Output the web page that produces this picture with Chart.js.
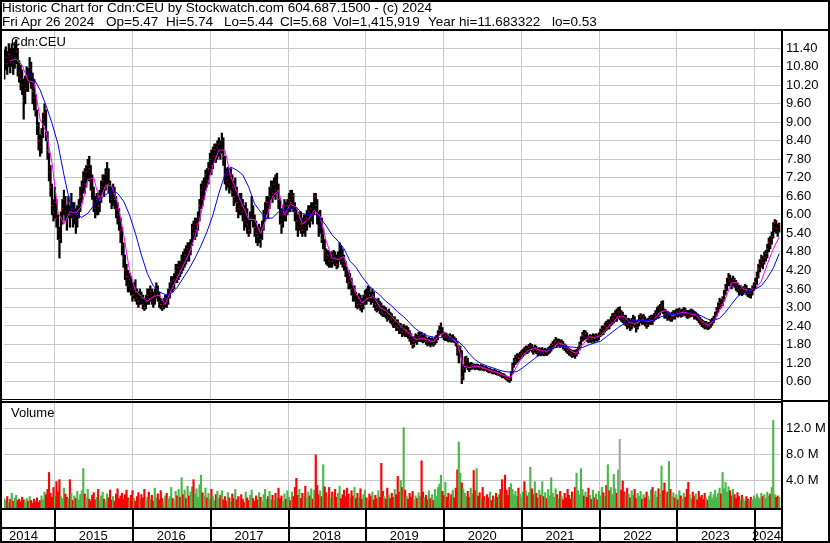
<!DOCTYPE html>
<html>
<head>
<meta charset="utf-8">
<title>Historic Chart for Cdn:CEU</title>
<script src="https://cdn.jsdelivr.net/npm/chart.js@4.4.1/dist/chart.umd.min.js"></script>
<style>
  html, body { margin:0; padding:0; background:#fff; }
  #wrap { position:relative; width:830px; height:543px; overflow:hidden; }
  #chart { position:absolute; left:0; top:0; }
  .hdr { position:absolute; font:13.5px "Liberation Sans", Arial, sans-serif; line-height:14px; color:#000; white-space:pre; }
</style>
</head>
<body>
<div id="wrap">
  <canvas id="chart" width="830" height="543"></canvas>
  <div id="hdr"></div>
</div>
<script>
// ---------------- data ----------------
const symbol = 'Cdn:CEU';
const headerTitle = 'Historic Chart for Cdn:CEU by Stockwatch.com 604.687.1500 - (c) 2024';
const headerStats = ['Fri Apr 26 2024', 'Op=5.47', 'Hi=5.74', 'Lo=5.44', 'Cl=5.68', 'Vol=1,415,919', 'Year hi=11.683322', 'lo=0.53'];
const firstWeekDate = '2014-05-09';           // one bar per week from this date
const yearLabels = ['2014','2015','2016','2017','2018','2019','2020','2021','2022','2023','2024'];
const priceTickLabels = ['0.60','1.20','1.80','2.40','3.00','3.60','4.20','4.80','5.40','6.00','6.60','7.20','7.80','8.40','9.00','9.60','10.20','10.80','11.40'];
const volumeTickLabels = ['4.0 M','8.0 M','12.0 M'];

const closes = [
10.90,11.10,10.90,11.20,10.95,11.15,10.90,11.10,11.30,10.85,
10.60,10.40,10.20,9.70,10.10,10.45,10.30,10.80,10.50,10.00,
9.80,9.40,8.90,8.40,8.20,8.60,9.10,9.30,8.70,8.10,
7.40,6.90,6.30,6.10,6.40,5.90,5.50,5.20,5.90,6.20,
6.50,6.10,5.80,6.40,6.00,6.20,5.90,6.10,5.80,6.00,
6.30,6.60,6.90,7.20,7.00,7.40,7.60,7.50,7.10,6.80,
6.40,6.20,6.50,6.30,6.60,6.90,7.10,6.90,7.30,7.40,
7.00,6.70,6.50,6.80,6.50,6.20,6.00,5.80,5.50,5.00,
4.60,4.20,4.00,3.70,3.90,3.60,3.40,3.60,3.50,3.30,
3.20,3.40,3.30,3.10,3.00,3.20,3.40,3.30,3.50,3.30,
3.20,3.40,3.60,3.40,3.20,3.10,3.00,3.10,3.30,3.20,
3.40,3.60,3.80,3.70,3.90,4.20,4.00,4.30,4.20,4.50,
4.40,4.70,4.60,4.90,4.80,5.00,5.60,5.40,5.50,5.70,
5.90,6.30,6.80,6.50,7.00,7.30,7.10,7.50,7.80,7.60,
7.90,8.10,7.90,8.20,8.30,8.00,8.40,7.90,7.30,7.10,
7.30,7.00,7.20,6.90,6.60,6.80,6.40,6.20,6.50,6.30,
6.10,5.80,6.10,5.70,5.50,5.90,6.20,5.90,5.60,5.40,
5.30,5.50,5.20,5.60,5.90,6.10,6.40,6.20,6.60,6.90,
6.70,7.00,6.80,7.10,6.50,6.00,5.70,6.00,6.30,6.10,
6.30,6.50,6.40,6.60,6.30,6.10,5.80,5.60,5.90,5.70,
5.50,5.80,5.60,5.90,6.10,5.90,6.20,6.00,6.60,6.30,
6.00,5.60,5.80,5.20,5.40,4.80,4.60,4.70,4.50,4.60,
4.50,4.70,4.60,4.40,4.60,4.90,4.70,4.50,4.40,4.20,
4.00,3.80,3.90,3.60,3.40,3.50,3.20,3.10,3.30,3.10,
3.00,3.20,3.40,3.30,3.50,3.40,3.30,3.40,3.20,3.10,
3.00,3.10,3.05,2.85,2.80,2.90,2.80,2.70,2.80,2.65,
2.60,2.50,2.55,2.40,2.35,2.30,2.35,2.20,2.30,2.20,
2.25,2.15,2.05,1.95,1.80,1.90,2.00,1.95,2.05,2.10,
1.98,1.95,2.00,1.90,1.85,1.95,1.88,1.92,1.85,1.95,
2.00,2.15,2.25,2.40,2.15,2.05,2.10,2.05,1.98,2.05,
1.95,2.00,1.92,1.85,1.55,1.60,1.70,0.75,1.00,1.20,
1.30,1.10,1.05,1.12,1.14,1.08,1.05,1.12,1.08,1.05,
1.08,1.02,1.00,1.04,0.98,0.95,0.97,0.92,0.90,0.93,
0.88,0.85,0.88,0.82,0.78,0.80,0.74,0.70,0.68,0.66,
0.85,1.10,1.25,1.30,1.40,1.35,1.45,1.50,1.55,1.50,
1.65,1.60,1.70,1.75,1.65,1.60,1.70,1.62,1.55,1.60,
1.55,1.60,1.52,1.58,1.55,1.62,1.68,1.75,1.80,1.85,
1.90,1.82,1.88,1.80,1.85,1.75,1.70,1.65,1.60,1.55,
1.50,1.45,1.55,1.48,1.55,1.65,1.80,1.95,2.10,2.05,
2.15,2.00,1.95,2.05,1.98,2.05,2.00,2.08,2.02,2.10,
2.20,2.30,2.25,2.40,2.35,2.50,2.45,2.55,2.65,2.72,
2.75,2.70,2.85,2.85,2.75,2.62,2.55,2.60,2.45,2.50,
2.40,2.55,2.60,2.45,2.35,2.50,2.60,2.70,2.55,2.65,
2.55,2.45,2.55,2.60,2.68,2.58,2.70,2.75,2.85,2.80,
2.95,3.05,2.90,2.75,2.80,2.70,2.75,2.65,2.72,2.80,
2.75,2.85,2.80,2.88,2.78,2.85,2.90,2.82,2.75,2.70,
2.78,2.85,2.80,2.72,2.78,2.68,2.60,2.55,2.50,2.45,
2.40,2.45,2.38,2.42,2.50,2.55,2.62,2.75,2.90,3.05,
3.15,3.10,3.25,3.40,3.60,3.80,3.95,3.85,3.75,3.90,
3.80,3.70,3.65,3.55,3.60,3.50,3.58,3.65,3.55,3.45,
3.50,3.45,3.62,3.70,3.80,4.00,4.25,4.40,4.55,4.45,
4.60,4.75,4.90,5.10,5.05,5.30,5.60,5.75,5.55,5.45,5.68];

const highs = [
11.35,11.45,11.30,11.55,11.40,11.55,11.40,11.60,11.68,11.40,
11.00,10.85,10.70,10.40,10.50,10.80,10.75,11.10,10.95,10.60,
10.40,9.90,9.40,9.00,8.60,8.80,9.30,9.60,9.40,8.70,
8.00,7.60,7.00,6.50,6.90,6.50,6.00,5.60,6.10,6.50,
6.80,6.60,6.30,6.60,6.30,6.70,6.40,6.40,6.20,6.30,
6.50,6.90,7.10,7.40,7.50,7.60,7.80,7.90,7.60,7.30,
6.90,6.60,6.70,6.70,6.80,7.10,7.30,7.30,7.50,7.70,
7.50,7.10,6.90,7.00,6.90,6.60,6.40,6.20,5.90,5.60,
5.10,4.70,4.40,4.20,4.10,4.00,3.80,3.80,3.90,3.60,
3.50,3.60,3.50,3.40,3.30,3.40,3.60,3.60,3.70,3.60,
3.50,3.60,3.80,3.70,3.50,3.30,3.20,3.30,3.40,3.40,
3.60,3.80,4.00,4.00,4.10,4.40,4.40,4.50,4.50,4.70,
4.80,4.90,5.00,5.10,5.10,5.20,5.70,5.80,5.90,5.90,
6.10,6.50,7.00,7.10,7.20,7.45,7.50,7.70,8.00,8.10,
8.20,8.30,8.30,8.40,8.50,8.40,8.65,8.50,7.90,7.50,
7.55,7.40,7.50,7.30,7.10,7.20,6.90,6.60,6.70,6.70,
6.50,6.30,6.40,6.20,5.90,6.10,6.60,6.30,6.00,5.80,
5.60,5.70,5.60,5.80,6.15,6.40,6.60,6.60,6.90,7.10,
7.10,7.20,7.30,7.35,7.00,6.50,6.20,6.30,6.50,6.40,
6.50,6.70,6.80,6.80,6.70,6.40,6.20,6.00,6.10,6.10,
5.90,6.00,6.00,6.15,6.30,6.30,6.40,6.40,6.70,6.70,
6.50,6.10,6.15,5.90,5.55,5.20,4.90,4.85,4.80,4.80,
4.80,4.85,4.80,4.70,4.80,5.10,5.00,4.90,4.70,4.50,
4.30,4.20,4.10,3.95,3.70,3.70,3.50,3.40,3.45,3.40,
3.30,3.40,3.55,3.60,3.70,3.65,3.50,3.60,3.50,3.30,
3.25,3.30,3.20,3.15,3.05,3.05,3.00,2.90,2.95,2.85,
2.80,2.70,2.70,2.60,2.60,2.50,2.48,2.40,2.45,2.40,
2.40,2.35,2.25,2.15,2.05,2.05,2.15,2.10,2.20,2.20,
2.20,2.10,2.15,2.05,2.00,2.04,2.00,2.02,1.98,2.04,
2.10,2.25,2.40,2.50,2.35,2.20,2.18,2.15,2.12,2.15,
2.10,2.12,2.05,2.00,1.90,1.75,1.75,1.60,1.15,1.40,
1.42,1.35,1.20,1.22,1.20,1.17,1.15,1.17,1.16,1.12,
1.15,1.12,1.08,1.10,1.06,1.03,1.04,1.00,0.98,1.00,
0.96,0.93,0.94,0.90,0.86,0.86,0.82,0.78,0.75,0.72,
0.92,1.20,1.35,1.45,1.50,1.50,1.55,1.60,1.65,1.70,
1.75,1.75,1.80,1.84,1.80,1.72,1.78,1.75,1.68,1.70,
1.68,1.70,1.65,1.68,1.65,1.70,1.75,1.82,1.90,1.95,
2.03,1.98,1.98,1.95,1.95,1.90,1.82,1.78,1.72,1.68,
1.65,1.60,1.62,1.60,1.65,1.72,1.88,2.05,2.20,2.26,
2.25,2.18,2.08,2.12,2.10,2.15,2.12,2.15,2.12,2.18,
2.30,2.40,2.40,2.50,2.55,2.60,2.60,2.70,2.80,2.82,
2.90,2.95,3.00,3.02,2.90,2.85,2.75,2.75,2.65,2.65,
2.60,2.65,2.75,2.70,2.55,2.60,2.75,2.80,2.75,2.78,
2.70,2.62,2.65,2.72,2.75,2.75,2.80,2.90,3.00,3.05,
3.10,3.20,3.22,2.95,2.92,2.88,2.85,2.82,2.85,2.90,
2.90,2.95,2.95,2.98,2.92,2.95,3.00,2.98,2.90,2.90,
2.92,2.95,2.92,2.88,2.85,2.80,2.75,2.68,2.62,2.58,
2.55,2.55,2.50,2.52,2.58,2.65,2.72,2.85,3.00,3.15,
3.30,3.25,3.35,3.55,3.75,3.95,4.10,4.05,3.95,4.02,
3.95,3.88,3.80,3.72,3.72,3.65,3.68,3.75,3.72,3.62,
3.62,3.58,3.70,3.80,3.95,4.15,4.40,4.55,4.70,4.65,
4.80,4.85,5.05,5.25,5.30,5.45,5.75,5.85,5.82,5.70,5.74];

const lows = [
10.40,10.70,10.55,10.80,10.60,10.80,10.55,10.75,10.90,10.50,
10.30,10.05,9.90,9.10,9.60,10.00,10.00,10.30,10.10,9.60,
9.40,9.20,8.60,8.10,7.90,8.00,8.50,8.90,8.40,7.80,
7.10,6.60,6.00,5.80,5.90,5.60,5.20,4.60,5.10,5.70,
6.00,5.80,5.50,5.90,5.60,5.90,5.60,5.70,5.40,5.60,
5.90,6.10,6.40,6.70,6.70,6.90,7.10,7.10,6.80,6.50,
6.10,5.90,6.00,6.00,6.10,6.40,6.70,6.60,6.80,7.00,
6.70,6.40,6.20,6.30,6.20,5.90,5.70,5.50,5.10,4.70,
4.30,3.90,3.70,3.50,3.50,3.40,3.20,3.30,3.20,3.10,
3.00,3.10,3.10,2.95,2.90,2.95,3.10,3.10,3.20,3.10,
3.00,3.10,3.30,3.20,3.00,2.95,2.90,2.95,3.00,3.00,
3.10,3.30,3.50,3.50,3.60,3.80,3.80,3.90,4.00,4.10,
4.20,4.30,4.40,4.50,4.50,4.70,5.00,5.20,5.20,5.30,
5.50,5.80,6.20,6.30,6.50,6.80,6.90,7.00,7.30,7.30,
7.50,7.70,7.70,7.80,7.90,7.80,8.00,7.60,7.00,6.80,
6.90,6.70,6.80,6.60,6.30,6.40,6.10,5.90,6.00,6.00,
5.80,5.50,5.60,5.40,5.30,5.40,5.80,5.60,5.30,5.10,
5.00,5.10,4.95,5.20,5.50,5.80,6.00,5.90,6.20,6.50,
6.40,6.60,6.50,6.70,6.20,5.70,5.40,5.60,5.80,5.80,
6.00,6.10,6.10,6.20,6.10,5.80,5.50,5.30,5.50,5.40,
5.30,5.40,5.30,5.50,5.70,5.60,5.80,5.70,6.00,6.10,
5.70,5.30,5.40,5.10,4.90,4.50,4.40,4.35,4.30,4.30,
4.30,4.40,4.35,4.25,4.30,4.50,4.40,4.30,4.20,4.00,
3.80,3.60,3.60,3.40,3.20,3.20,3.00,2.95,3.00,2.90,
2.85,2.95,3.10,3.10,3.20,3.20,3.10,3.15,3.00,2.90,
2.85,2.90,2.80,2.75,2.70,2.70,2.65,2.55,2.60,2.50,
2.45,2.35,2.35,2.25,2.25,2.15,2.15,2.05,2.10,2.05,
2.05,2.00,1.90,1.80,1.68,1.72,1.85,1.80,1.90,1.90,
1.88,1.85,1.88,1.80,1.75,1.78,1.72,1.78,1.74,1.80,
1.85,1.95,2.10,2.15,2.05,1.95,1.92,1.92,1.88,1.90,
1.87,1.88,1.85,1.75,1.45,1.20,1.40,0.53,0.65,0.90,
1.05,0.98,0.92,0.98,1.00,1.00,0.98,1.00,0.98,0.96,
0.98,0.96,0.94,0.96,0.92,0.88,0.90,0.86,0.84,0.85,
0.82,0.80,0.80,0.76,0.72,0.72,0.68,0.64,0.60,0.57,
0.62,0.85,1.06,1.15,1.20,1.25,1.30,1.35,1.40,1.45,
1.50,1.50,1.55,1.60,1.55,1.48,1.55,1.50,1.42,1.45,
1.43,1.45,1.43,1.45,1.44,1.48,1.52,1.58,1.65,1.70,
1.75,1.72,1.75,1.70,1.72,1.65,1.60,1.55,1.50,1.45,
1.42,1.38,1.40,1.35,1.42,1.50,1.62,1.78,1.90,1.95,
1.98,1.90,1.85,1.88,1.85,1.90,1.85,1.92,1.90,1.95,
2.05,2.10,2.12,2.20,2.25,2.30,2.30,2.40,2.45,2.50,
2.55,2.55,2.65,2.60,2.55,2.50,2.45,2.40,2.30,2.35,
2.25,2.30,2.40,2.35,2.20,2.30,2.40,2.50,2.45,2.45,
2.40,2.32,2.38,2.45,2.45,2.45,2.55,2.60,2.65,2.65,
2.75,2.85,2.80,2.65,2.65,2.58,2.60,2.55,2.55,2.62,
2.62,2.70,2.68,2.72,2.68,2.70,2.75,2.72,2.65,2.65,
2.68,2.70,2.70,2.62,2.62,2.58,2.50,2.45,2.38,2.35,
2.30,2.32,2.28,2.30,2.35,2.42,2.50,2.60,2.72,2.85,
2.95,2.98,3.05,3.20,3.40,3.55,3.70,3.70,3.60,3.70,
3.65,3.55,3.50,3.40,3.45,3.38,3.42,3.48,3.40,3.35,
3.32,3.30,3.40,3.55,3.60,3.75,3.95,4.15,4.30,4.25,
4.40,4.50,4.60,4.80,4.90,5.05,5.25,5.45,5.40,5.30,5.44];

// volume in millions of shares
const volumes = [
1.2,0.9,1.5,0.6,1.1,2.0,0.8,1.3,1.7,0.9,1.1,0.7,1.4,
1.0,0.6,1.2,0.8,1.5,0.9,0.5,1.1,0.7,1.3,0.6,0.9,1.6,
1.0,2.2,1.8,2.6,5.2,2.0,1.4,2.9,1.6,3.8,2.2,4.1,1.5,
1.2,2.8,1.9,1.4,1.1,4.1,2.0,0.9,1.6,1.2,2.3,1.0,1.8,
2.4,5.8,1.9,1.3,2.6,1.1,0.8,1.7,2.1,1.0,1.4,2.6,0.9,
1.6,2.2,1.1,0.7,1.9,1.3,2.5,1.0,1.5,0.8,1.9,2.7,1.2,
1.6,2.0,1.1,1.8,2.5,1.3,0.9,1.7,2.4,1.2,0.8,1.5,2.1,
1.0,1.8,1.3,2.6,0.9,1.4,2.2,1.1,1.7,0.8,2.8,1.3,1.9,
1.0,2.4,1.2,0.7,1.6,2.0,1.1,1.5,2.9,1.2,0.9,2.3,1.6,
2.6,1.4,4.4,1.8,2.5,1.2,3.1,1.6,2.2,3.0,4.1,1.9,2.7,
1.4,3.3,4.8,2.1,1.6,2.8,1.3,2.0,1.1,2.6,1.5,0.9,1.8,
2.3,1.2,1.7,2.4,1.0,1.5,0.8,2.1,1.3,0.7,1.9,1.2,2.6,
1.0,1.5,0.8,1.8,1.1,0.6,2.2,1.3,0.9,1.7,2.5,1.2,0.8,
1.6,1.0,2.1,1.4,0.7,1.8,2.6,1.1,1.5,2.3,1.0,1.7,0.9,
2.0,1.3,2.8,1.2,1.6,0.8,1.9,1.1,2.4,1.4,0.9,2.2,1.5,
2.9,4.3,1.7,2.6,1.2,2.0,1.5,3.1,1.3,2.2,1.6,2.7,1.1,
2.5,7.9,3.2,1.8,2.4,1.5,6.4,3.0,2.1,1.6,2.9,1.3,2.2,
1.7,2.6,1.4,2.0,3.1,1.2,1.8,2.5,1.5,2.8,1.9,1.3,2.4,
1.6,2.9,1.2,2.0,1.4,2.7,1.1,1.8,2.5,1.3,0.9,1.9,1.5,
2.2,1.0,1.7,1.2,2.4,1.4,6.6,2.3,1.5,1.1,2.8,1.7,1.2,
2.0,1.4,2.6,1.8,4.6,2.2,4.0,2.9,12.1,2.5,1.6,1.1,2.0,
1.4,2.3,1.0,1.6,1.2,2.1,1.5,7.0,2.2,1.3,1.7,1.0,2.4,
1.2,1.8,0.9,2.6,1.5,2.9,3.4,4.8,2.3,1.7,3.7,1.4,2.0,
1.1,1.8,2.5,1.3,2.8,5.6,9.9,5.1,3.6,2.7,2.0,1.5,2.3,
1.4,2.8,1.9,5.5,2.4,5.8,1.6,2.1,1.2,2.9,1.5,1.0,1.8,
1.3,2.2,0.9,1.6,1.1,2.0,1.4,1.8,2.6,4.1,1.9,4.8,2.5,
1.7,2.9,3.5,2.6,1.8,2.3,1.5,2.8,1.9,1.4,2.2,3.8,2.4,
1.6,2.1,6.0,2.7,1.8,3.8,2.0,1.3,2.5,1.7,3.8,1.5,2.1,
1.2,2.6,1.6,4.4,2.0,1.4,2.7,1.8,1.2,2.3,1.5,1.0,2.0,
1.3,2.6,1.7,1.1,2.2,1.5,2.9,5.1,2.4,1.8,5.8,2.6,1.6,
2.2,1.4,2.8,1.7,1.1,2.5,1.3,1.9,1.0,2.3,1.6,2.9,2.1,
1.5,3.2,6.4,2.4,2.9,1.8,4.9,2.7,2.0,5.6,10.3,2.5,3.9,
2.2,1.6,2.8,1.9,1.3,2.4,1.7,2.6,1.2,2.0,1.5,2.3,1.1,
1.8,1.3,2.2,1.6,1.0,2.5,2.9,1.7,2.3,1.4,2.7,1.9,6.2,
2.4,3.6,1.8,2.2,6.9,2.6,1.5,2.1,1.3,1.8,1.0,2.4,1.6,
1.2,2.0,1.4,2.6,3.7,1.8,1.1,2.2,1.5,1.9,1.0,2.3,1.4,
1.7,1.1,2.0,1.3,0.9,1.6,2.2,1.2,1.8,2.5,1.4,2.0,2.8,
1.9,5.2,2.7,3.7,2.2,3.0,2.4,1.6,2.6,1.8,1.2,2.1,1.5,
1.0,1.7,1.2,0.8,1.5,1.1,0.9,1.4,1.0,1.6,1.2,1.9,1.4,
1.1,2.0,1.5,1.8,1.2,2.2,1.6,1.9,2.9,13.2,1.8,1.4,1.6,1.4];

// magenta short moving average, read every 4 weeks starting at week 4
const shortMA = [
11.00,11.05,10.85,10.35,10.30,9.10,8.70,7.70,6.10,5.70,
6.10,6.05,6.30,7.15,7.20,6.45,6.95,6.95,6.40,5.40,
4.20,3.55,3.35,3.20,3.35,3.40,3.10,3.55,3.95,4.35,
4.75,5.30,6.05,6.90,7.60,8.10,8.10,7.25,6.75,6.30,
5.85,5.85,5.40,5.90,6.60,6.80,6.00,6.35,6.25,5.70,
5.85,6.15,5.95,5.15,4.60,4.55,4.65,4.00,3.45,3.15,
3.30,3.35,3.00,2.90,2.70,2.50,2.30,2.15,1.95,2.00,
1.95,1.88,2.10,2.20,2.00,1.85,1.10,1.05,1.10,1.07,
1.00,0.93,0.87,0.78,0.74,1.10,1.45,1.62,1.68,1.60,
1.57,1.70,1.85,1.78,1.60,1.51,1.77,2.05,2.02,2.08,
2.30,2.50,2.70,2.70,2.50,2.48,2.60,2.55,2.60,2.85,
2.90,2.72,2.80,2.85,2.80,2.75,2.55,2.42,2.55,2.90,
3.30,3.80,3.80,3.60,3.55,3.60,3.85,4.40,4.90,5.28];

// blue long moving average, read every 4 weeks starting at week 16
const longMA = [
10.65,10.40,10.05,9.55,8.97,8.30,7.30,6.40,6.00,5.92,
6.05,6.30,6.50,6.65,6.80,6.70,6.45,6.00,5.40,4.70,
4.10,3.70,3.50,3.42,3.45,3.65,3.95,4.25,4.60,5.00,
5.45,6.00,6.70,7.30,7.55,7.45,7.30,6.90,6.35,6.10,
5.88,5.90,6.10,6.15,6.20,6.25,6.05,6.00,6.05,5.90,
5.65,5.35,5.15,4.90,4.50,4.30,4.00,3.75,3.55,3.40,
3.20,3.05,2.85,2.70,2.50,2.30,2.18,2.08,2.04,2.02,
2.02,2.00,1.92,1.75,1.50,1.30,1.18,1.10,1.04,0.97,
0.92,0.90,0.92,1.05,1.20,1.35,1.50,1.62,1.68,1.72,
1.73,1.72,1.70,1.70,1.78,1.85,1.90,2.05,2.20,2.35,
2.48,2.55,2.58,2.57,2.58,2.60,2.68,2.75,2.78,2.78,
2.80,2.82,2.80,2.72,2.62,2.58,2.65,2.85,3.10,3.35,
3.48,3.55,3.60,3.70,3.95,4.27,4.75];
const shortMAStart = 4, longMAStart = 16, maStep = 4;

// ---------------- header text ----------------
(function buildHeader() {
  const host = document.getElementById('hdr');
  const line1 = document.createElement('div');
  line1.className = 'hdr'; line1.style.left = '2px'; line1.style.top = '1px';
  line1.textContent = headerTitle;
  host.appendChild(line1);
  const statLeft = [2, 106, 166, 224, 280, 333, 428, 552];   // layout of the second header line
  headerStats.forEach((s, i) => {
    const d = document.createElement('div');
    d.className = 'hdr'; d.style.left = statLeft[i] + 'px'; d.style.top = '15px';
    d.textContent = s;
    host.appendChild(d);
  });
})();

// ---------------- chart ----------------
const FAMILY = '"Liberation Sans", Arial, Helvetica, sans-serif';
const FONT = '13px ' + FAMILY;
const UP = '#4cb84c', DOWN = '#ff0000', FLAT = '#a8a8a8', GRID = '#c8c8c8';
const DAY = 864e5;
const t0 = Date.parse(firstWeekDate + 'T00:00:00Z');
const weekOf = (y, m, d) => (Date.UTC(y, m, d) - t0) / (7 * DAY);
const yearStarts = yearLabels.slice(1).map(y => weekOf(+y, 0, 1));
const yearMids = yearLabels.map(y => weekOf(+y, 6, 1));
const priceTicks = priceTickLabels.map(Number);
const volumeTicks = volumeTickLabels.map(s => parseFloat(s));
const VOL_MIN = -0.26, VOL_MAX = 16.35;

const hlData = highs.map((h, i) => ({ x: i, y: [lows[i], h] }));
const closeData = closes.map((c, i) => ({ x: i, y: c }));
const volData = volumes.map((v, i) => ({ x: i, y: v }));
const volColors = closes.map((c, i) => (i === 0 || c > closes[i - 1]) ? UP : (c < closes[i - 1] ? DOWN : FLAT));
const shortData = shortMA.map((v, i) => ({ x: shortMAStart + i * maStep, y: v }));
const longData = longMA.map((v, i) => ({ x: longMAStart + i * maStep, y: v }));

const framePlugin = {
  id: 'frame',
  beforeDatasetsDraw(chart) {
    const { ctx, chartArea: a } = chart;
    const p = chart.scales.y, v = chart.scales.yv;
    ctx.save();
    ctx.font = FONT; ctx.fillStyle = '#000'; ctx.textBaseline = 'alphabetic'; ctx.textAlign = 'left';
    ctx.fillText(symbol, a.left + 7, p.top + 15);
    ctx.fillText('Volume', a.left + 7, v.top + 17);
    ctx.restore();
  },
  afterDraw(chart) {
    const { ctx, chartArea: a } = chart;
    const W = chart.width, H = chart.height;
    const p = chart.scales.y, v = chart.scales.yv, x = chart.scales.x;
    ctx.save();
    ctx.fillStyle = '#000';
    ctx.fillRect(0, 0, W, 2);
    ctx.fillRect(0, 0, 2, H);
    ctx.fillRect(W - 2, 0, 2, H);
    ctx.fillRect(0, H - 2, W, 2);
    ctx.fillRect(0, a.top - 2, W, 2);
    ctx.fillRect(a.right, a.top, 2, H - a.top);
    ctx.fillRect(0, p.bottom - 1, a.right, 1);
    ctx.fillRect(0, p.bottom + 1, a.right, 2);
    ctx.fillRect(a.right + 2, p.bottom, W - a.right - 2, 2);
    ctx.fillRect(0, v.bottom, a.right, 2);
    const mid = v.bottom + 19;
    ctx.fillRect(0, mid, a.right, 2);
    yearStarts.forEach(s => ctx.fillRect(Math.floor(x.getPixelForValue(s)), v.bottom + 2, 2, H - v.bottom - 2));
    ctx.font = FONT; ctx.textAlign = 'center'; ctx.textBaseline = 'alphabetic';
    yearLabels.forEach((lab, i) => {
      const half = ctx.measureText(lab).width / 2;
      const cx = Math.min(Math.max(x.getPixelForValue(yearMids[i]), a.left + half + 5), a.right - half);
      ctx.fillText(lab, cx, H - 3);
    });
    ctx.restore();
  }
};

new Chart(document.getElementById('chart'), {
  type: 'bar',
  data: {
    datasets: [
      { type: 'line', data: longData, yAxisID: 'y', borderColor: '#0000ff', borderWidth: 1, pointRadius: 0, tension: 0, order: 0 },
      { type: 'line', data: shortData, yAxisID: 'y', borderColor: '#ff00ff', borderWidth: 1, pointRadius: 0, tension: 0, order: 1 },
      { type: 'line', data: closeData, yAxisID: 'y', showLine: false, pointStyle: 'rect', pointRadius: 0.75, pointBorderWidth: 0, pointBackgroundColor: '#ff0000', order: 2 },
      { type: 'bar', data: hlData, yAxisID: 'y', backgroundColor: '#000', barThickness: 1.6, grouped: false, order: 3 },
      { type: 'bar', data: volData, yAxisID: 'yv', backgroundColor: volColors, barThickness: 1.5, grouped: false, base: VOL_MIN, order: 4 }
    ]
  },
  options: {
    responsive: false,
    animation: false,
    events: [],
    devicePixelRatio: 1,
    layout: { padding: { top: 31, left: 2, right: 0, bottom: 35 } },
    plugins: { legend: { display: false }, tooltip: { enabled: false }, title: { display: false } },
    scales: {
      x: {
        type: 'linear', min: -0.2, max: closes.length + 0.2, position: 'bottom', offset: false,
        afterBuildTicks: s => { s.ticks = yearStarts.map(v => ({ value: v })); },
        afterFit: s => { s.height = 0; },
        ticks: { display: false },
        grid: { color: GRID, lineWidth: 1, drawTicks: false, offset: false },
        border: { display: false }
      },
      y: {
        type: 'linear', position: 'right', stack: 'panels', stackWeight: 369, weight: 0,
        min: 0, max: 11.96,
        afterBuildTicks: s => { s.ticks = priceTicks.map(v => ({ value: v })); },
        afterFit: s => { s.width = 49; },
        ticks: { autoSkip: false, callback: (val, i) => priceTickLabels[i], color: '#000', font: { family: FAMILY, size: 13 }, padding: 5 },
        grid: { color: GRID, lineWidth: 1, drawTicks: false },
        border: { display: false }
      },
      yv: {
        type: 'linear', position: 'right', stack: 'panels', stackWeight: 108, weight: 1,
        min: VOL_MIN, max: VOL_MAX,
        afterBuildTicks: s => { s.ticks = volumeTicks.map(v => ({ value: v })); },
        afterFit: s => { s.width = 49; },
        ticks: { autoSkip: false, callback: (val, i) => volumeTickLabels[i], color: '#000', font: { family: FAMILY, size: 13 }, padding: 5 },
        grid: { color: GRID, lineWidth: 1, drawTicks: false },
        border: { display: false }
      }
    }
  },
  plugins: [framePlugin]
});
</script>
</body>
</html>
